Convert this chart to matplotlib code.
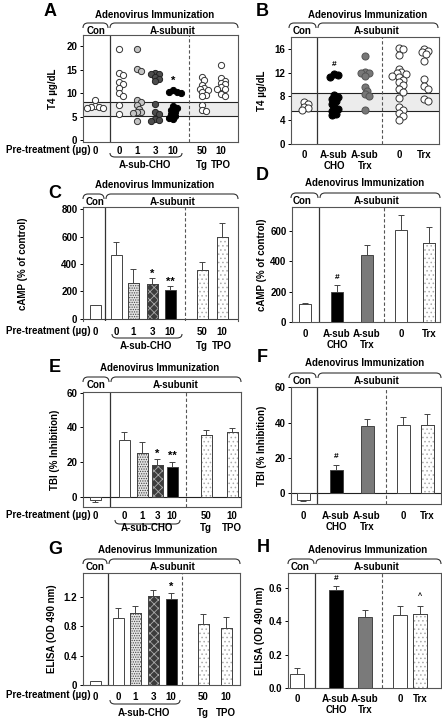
import numpy as np
import matplotlib
matplotlib.use('Agg')
import matplotlib.pyplot as plt
from matplotlib.path import Path
from matplotlib.patches import PathPatch

plt.rcParams['font.family'] = ['Liberation Sans', 'DejaVu Sans']
plt.rcParams['font.weight'] = 'bold'
plt.rcParams['font.size'] = 7
plt.rcParams['hatch.linewidth'] = 0.6

W, H = 442, 719
EDGE = '#444444'

# ---------------- data ----------------
# T4 (ug/dL), panel A: Con, A-sub-CHO 0/1/3/10, Tg 50, TPO 10
a_con = [8.6, 7.2, 7.0, 7.0, 6.8, 6.9]
a_cho0 = [19.4, 14.2, 13.8, 12.4, 11.9, 11.1, 10.0, 9.5, 7.4, 5.5]
a_cho1 = [19.4, 15.1, 14.7, 8.6, 8.1, 7.4, 6.7, 6.0, 6.0, 5.8, 4.1]
a_cho3 = [14.4, 14.0, 14.0, 13.5, 13.1, 12.5, 7.6, 6.0, 5.5, 4.4, 4.1, 4.2]
a_cho10 = [10.7, 10.2, 10.0, 10.3, 7.2, 6.8, 6.5, 6.0, 5.5, 5.2, 4.8, 4.4]
a_tg = [13.5, 12.8, 11.8, 11.1, 10.9, 10.7, 10.2, 9.7, 9.3, 7.4, 6.5, 6.2]
a_tpo = [16.0, 13.2, 12.7, 12.2, 11.9, 11.4, 11.0, 10.9, 9.8, 9.5]
a_band = (5.1, 8.1)

# T4, panel B: Con, A-sub CHO, A-sub Trx, A-subunit 0, Trx
b_con = [7.1, 6.8, 6.3, 6.0, 5.7]
b_cho = [11.8, 11.6, 11.3, 8.2, 7.9, 7.6, 7.2, 6.8, 6.2, 5.9, 5.6, 5.1, 4.8]
b_trx = [14.8, 12.1, 12.0, 12.0, 11.4, 9.6, 9.0, 8.4, 8.0, 5.7]
b_zero = [16.2, 15.9, 14.9, 12.7, 12.1, 11.9, 11.7, 11.5, 11.3, 10.8, 10.4,
          9.9, 9.3, 8.8, 7.8, 6.2, 5.8, 5.2, 4.7, 4.1]
b_trx2 = [16.0, 15.7, 15.4, 15.1, 14.0, 11.0, 9.7, 9.3, 7.6, 7.2]
b_band = (5.5, 8.5)

# cAMP (% of control)
c_mean = [100, 465, 265, 252, 210, 358, 600]
c_err = [3, 95, 100, 45, 30, 57, 98]
d_mean = [120, 197, 440, 605, 520]
d_err = [5, 48, 65, 100, 105]

# TBI (% inhibition)
e_mean = [-2, 32.5, 25, 18, 17, 35.5, 37.5]
e_err = [1, 5, 6.5, 3.5, 3.2, 3, 2.3]
f_mean = [-3.5, 13, 38, 38.5, 38.5]
f_err = [1, 3, 4, 5, 6.5]

# ELISA (OD 490 nm)
g_mean = [0.05, 0.92, 0.99, 1.22, 1.18, 0.83, 0.78]
g_err = [0.005, 0.13, 0.09, 0.08, 0.07, 0.14, 0.15]
h_mean = [0.085, 0.59, 0.425, 0.44, 0.445]
h_err = [0.035, 0.025, 0.045, 0.055, 0.05]

left_ticks = ['0', '0', '1', '3', '10', '50', '10']
right_ticks = ['0', 'A-sub\nCHO', 'A-sub\nTrx', '0', 'Trx']
left_styles = ['white', 'white', 'stip', 'cross', 'black', 'light', 'light']
right_styles = ['white', 'black', 'gray', 'white', 'light']

# ---------------- styling ----------------
BAR = {
    'white': ('white', None, None),
    'stip': ('#e4e4e4', '.......', '#444444'),
    'cross': ('#3c3c3c', 'xxxx', '#aaaaaa'),
    'black': ('black', None, None),
    'light': ('white', '....', '#aaaaaa'),
    'gray': ('#7a7a7a', None, None),
}
DOT = {
    'white': dict(facecolor='white', edgecolor='#333333'),
    'stip': dict(facecolor='#c4c4c4', edgecolor='#333333'),
    'cross': dict(facecolor='#4d4d4d', edgecolor='#222222'),
    'black': dict(facecolor='black', edgecolor='black'),
    'light': dict(facecolor='white', edgecolor='#333333'),
    'gray': dict(facecolor='#777777', edgecolor='#555555'),
}

fig = plt.figure(figsize=(W / 100, H / 100), dpi=100)
ov = fig.add_axes([0, 0, 1, 1])
ov.set_xlim(0, W)
ov.set_ylim(H, 0)
ov.axis('off')


def T(x, y, s, size=7, **kw):
    kw.setdefault('ha', 'center')
    kw.setdefault('va', 'center')
    ov.text(x, y, s, fontsize=size, fontweight='bold', **kw)


def brace(x0, x1, yflat, yend, r=5):
    verts = [(x0, yend), (x0, yflat), (x0 + r, yflat), (x1 - r, yflat),
             (x1, yflat), (x1, yend)]
    codes = [Path.MOVETO, Path.CURVE3, Path.CURVE3, Path.LINETO,
             Path.CURVE3, Path.CURVE3]
    ov.add_patch(PathPatch(Path(verts, codes), fill=False, lw=0.8,
                           edgecolor='#333333'))


def make_axes(l, t, r, b, ylim):
    ax = fig.add_axes([l / W, 1 - b / H, (r - l) / W, (b - t) / H])
    ax.set_xlim(l, r)
    ax.set_ylim(*ylim)
    for s in ax.spines.values():
        s.set_color('#555555')
        s.set_linewidth(0.8)
    ax.tick_params(axis='y', direction='out', length=2.5, width=0.7,
                   pad=1.5, labelsize=7, colors='black')
    ax.tick_params(axis='x', length=0, labelsize=7)
    return ax


def header(letter, lx, ly, cx, ty, x0, xs, x1, by, con_x, sub_x):
    T(lx, ly, letter, size=13)
    T(cx, ty, 'Adenovirus Immunization')
    brace(x0, xs - 1, by, by + 5)
    brace(xs + 1, x1, by, by + 5)
    T(con_x, by + 8, 'Con')
    T(sub_x, by + 8, 'A-subunit')


def separators(ax, xs, xd):
    ax.axvline(xs, color='#333333', lw=0.9, zorder=1)
    ax.axvline(xd, color='#555555', lw=0.8, ls=(0, (3, 2)), zorder=1)


def swarm(vals, ppu, d):
    # simple deterministic beeswarm, offsets in pixels
    vals = np.asarray(vals, float)
    offs = np.zeros(len(vals))
    placed = []
    for i in np.argsort(vals)[::-1]:
        y = vals[i] * ppu
        k = 0
        while True:
            cands = [0.0] if k == 0 else [k * d * 0.4, -k * d * 0.4]
            hit = None
            for c in cands:
                if all((c - px) ** 2 + (y - py) ** 2 >= (0.75 * d) ** 2
                       for px, py in placed):
                    hit = c
                    break
            if hit is not None:
                break
            k += 1
        offs[i] = hit
        placed.append((hit, y))
    return offs


def dots(ax, xs, groups, styles, t, b, ylim, size=20, d=4.8):
    ppu = (b - t) / (ylim[1] - ylim[0])
    for x, g, st in zip(xs, groups, styles):
        off = swarm(g, ppu, d)
        ax.scatter(x + off, g, s=size, linewidths=0.7, zorder=4, **DOT[st])


def bars(ax, xs, means, errs, styles, w):
    for x, m, e, st in zip(xs, means, errs, styles):
        fc, hatch, hc = BAR[st]
        ax.bar(x, m, w, color=fc, edgecolor=EDGE, linewidth=0.7, zorder=3)
        if hatch:
            ax.bar(x, m, w, color='none', edgecolor=hc, hatch=hatch,
                   linewidth=0, zorder=3)
            ax.bar(x, m, w, color='none', edgecolor=EDGE, linewidth=0.7,
                   zorder=3)
        yerr = [[0], [e]] if m >= 0 else [[e], [0]]
        ax.errorbar([x], [m], yerr=yerr, fmt='none', ecolor=EDGE,
                    elinewidth=0.7, capsize=2, capthick=0.7, zorder=2)


def ylabel(ax, text, px, l, r):
    ax.set_ylabel(text, fontsize=7, fontweight='bold')
    ax.yaxis.set_label_coords((px - l) / (r - l), 0.5)


def xticks(ax, xs, labels, pad):
    ax.set_xticks(xs)
    ax.set_xticklabels(labels, fontsize=7, fontweight='bold', linespacing=1.15)
    ax.tick_params(axis='x', pad=pad)


def left_footer(yt, xb0, xb1, yb, ylab, xtg, xtpo):
    T(6, yt, 'Pre-treatment (µg)', ha='left')
    brace(xb0, xb1, yb + 4, yb, r=5)
    T((xb0 + xb1) / 2 - 1, ylab, 'A-sub-CHO')
    T(xtg, ylab, 'Tg')
    T(xtpo, ylab, 'TPO')


# ================= Panel A =================
l, t, r, b = 83, 35, 238, 142
yl = (-0.4, 22.4)
xa = [95, 119, 137, 155, 173, 202, 221]
ax = make_axes(l, t, r, b, yl)
ax.axhspan(*a_band, facecolor='#ececec', edgecolor='none', zorder=0)
ax.axhline(a_band[0], color='#222222', lw=0.8, zorder=1)
ax.axhline(a_band[1], color='#222222', lw=0.8, zorder=1)
separators(ax, 110, 189)
dots(ax, xa, [a_con, a_cho0, a_cho1, a_cho3, a_cho10, a_tg, a_tpo],
     ['white', 'white', 'stip', 'cross', 'black', 'white', 'white'], t, b, yl)
ax.text(xa[4], 12.6, '*', ha='center', va='center', fontsize=8)
ax.set_yticks([0, 5, 10, 15, 20])
xticks(ax, xa, left_ticks, 3)
ylabel(ax, 'T4 µg/dL', 58, l, r)
header('A', 50, 12, 155, 15, 83, 109, 238, 23, 96, 173)
left_footer(150, 110, 182, 153, 165, xa[5], xa[6])

# ================= Panel B =================
l, t, r, b = 291, 37, 439, 144
yl = (0, 18)
xb = [304, 334, 365, 399, 424]
ax = make_axes(l, t, r, b, yl)
ax.axhspan(*b_band, facecolor='#ececec', edgecolor='none', zorder=0)
ax.axhline(b_band[0], color='#222222', lw=0.8, zorder=1)
ax.axhline(b_band[1], color='#222222', lw=0.8, zorder=1)
separators(ax, 317, 382)
dots(ax, xb, [b_con, b_cho, b_trx, b_zero, b_trx2], right_styles[:3] + ['white', 'white'],
     t, b, yl, size=26, d=5.5)
ax.text(xb[1], 13.4, '#', ha='center', va='center', fontsize=6)
ax.set_yticks([0, 4, 8, 12, 16])
xticks(ax, xb, right_ticks, 4)
ylabel(ax, 'T4 µg/dL', 267, l, r)
header('B', 262, 12, 368, 15, 289, 317, 438, 23, 302, 377)

# ================= Panel C =================
l, t, r, b = 83, 207, 238, 321
yl = (-15, 815)
xc = [95, 116, 133, 152, 170, 202, 222]
ax = make_axes(l, t, r, b, yl)
ax.spines['bottom'].set_visible(False)
ax.axhline(0, color='#444444', lw=0.8, zorder=1)
separators(ax, 105, 185)
bars(ax, xc, c_mean, c_err, left_styles, 11)
ax.text(xc[3], c_mean[3] + c_err[3] + 30, '*', ha='center', va='center', fontsize=8)
ax.text(xc[4], c_mean[4] + c_err[4] + 30, '**', ha='center', va='center', fontsize=8)
ax.set_yticks([0, 200, 400, 600, 800])
xticks(ax, xc, left_ticks, 4)
ylabel(ax, 'cAMP (% of control)', 28, l, r)
header('C', 55, 193, 155, 185, 83, 105, 238, 194, 95, 173)
left_footer(331, 112, 182, 334, 346, xc[5], xc[6])

# ================= Panel D =================
l, t, r, b = 292, 207, 440, 322
yl = (0, 755)
xd = [305, 337, 367, 401, 429]
ax = make_axes(l, t, r, b, yl)
separators(ax, 319, 384)
bars(ax, xd, d_mean, d_err, right_styles, 12.5)
ax.text(xd[1], d_mean[1] + d_err[1] + 45, '#', ha='center', va='center', fontsize=6)
ax.set_yticks([0, 200, 400, 600])
xticks(ax, xd, right_ticks, 5)
ylabel(ax, 'cAMP (% of control)', 267, l, r)
header('D', 262, 176, 365, 183, 291, 319, 440, 193, 302, 377)

# ================= Panel E =================
l, t, r, b = 83, 392, 241, 507
yl = (-6, 60.5)
xe = [95, 124, 142, 157, 172, 206, 232]
ax = make_axes(l, t, r, b, yl)
ax.axhline(0, color='#222222', lw=0.8, zorder=1)
separators(ax, 110, 186)
bars(ax, xe, e_mean, e_err, left_styles, 11)
ax.text(xe[3], e_mean[3] + e_err[3] + 3.5, '*', ha='center', va='center', fontsize=8)
ax.text(xe[4], e_mean[4] + e_err[4] + 3.5, '**', ha='center', va='center', fontsize=8)
ax.set_yticks([0, 20, 40, 60])
xticks(ax, xe, left_ticks, 3)
ylabel(ax, 'TBI (% Inhibition)', 60, l, r)
header('E', 55, 367, 160, 368, 83, 110, 241, 377, 96, 176)
left_footer(515, 115, 180, 520, 528, xe[5], xe[6])

# ================= Panel F =================
l, t, r, b = 291, 387, 441, 504
yl = (-6, 60.2)
xf = [303, 336, 367, 403, 427]
ax = make_axes(l, t, r, b, yl)
ax.axhline(0, color='#222222', lw=0.8, zorder=1)
separators(ax, 317, 386)
bars(ax, xf, f_mean, f_err, right_styles, 13)
ax.text(xf[1], f_mean[1] + f_err[1] + 5, '#', ha='center', va='center', fontsize=6)
ax.set_yticks([0, 20, 40, 60])
xticks(ax, xf, right_ticks, 5)
ylabel(ax, 'TBI (% Inhibition)', 267, l, r)
header('F', 262, 358, 365, 363, 289, 317, 441, 373, 302, 377)

# ================= Panel G =================
l, t, r, b = 83, 573, 240, 685
yl = (0, 1.53)
xg = [95, 118, 135, 153, 171, 203, 226]
ax = make_axes(l, t, r, b, yl)
separators(ax, 108, 182)
bars(ax, xg, g_mean, g_err, left_styles, 11)
ax.text(xg[4], g_mean[4] + g_err[4] + 0.09, '*', ha='center', va='center', fontsize=8)
ax.set_yticks([0, 0.4, 0.8, 1.2])
ax.set_yticklabels(['0', '0.4', '0.8', '1.2'])
xticks(ax, xg, left_ticks, 5)
ylabel(ax, 'ELISA (OD 490 nm)', 57, l, r)
header('G', 55, 550, 158, 550, 83, 108, 240, 559, 95, 173)
left_footer(695, 110, 180, 700, 713, xg[5], xg[6])

# ================= Panel H =================
l, t, r, b = 288, 573, 441, 688
yl = (0, 0.69)
xh = [297, 336, 365, 400, 420]
ax = make_axes(l, t, r, b, yl)
separators(ax, 315, 382)
bars(ax, xh, h_mean, h_err, right_styles, 13.5)
ax.text(xh[1], h_mean[1] + h_err[1] + 0.04, '#', ha='center', va='center', fontsize=6)
ax.text(xh[4], h_mean[4] + h_err[4] + 0.055, '^', ha='center', va='center', fontsize=5)
ax.set_yticks([0, 0.2, 0.4, 0.6])
ax.set_yticklabels(['0.0', '0.2', '0.4', '0.6'])
xticks(ax, xh, right_ticks, 4)
ylabel(ax, 'ELISA (OD 490 nm)', 265, l, r)
header('H', 263, 548, 368, 550, 288, 315, 441, 559, 300, 377)

fig.savefig('out.png', dpi=100)
